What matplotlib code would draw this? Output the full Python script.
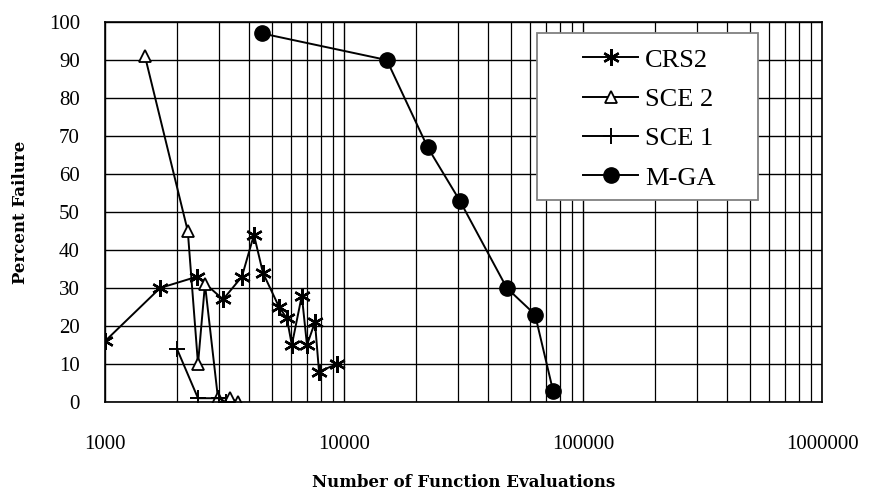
import numpy as np
import matplotlib
matplotlib.use("Agg")
import matplotlib.pyplot as plt
from matplotlib.ticker import LogLocator, NullFormatter, FixedLocator
from matplotlib.patches import Rectangle

plt.rcParams['font.family'] = ['Liberation Serif', 'DejaVu Serif']

# data
crs2_x = [1000, 1700, 2430, 3120, 3740, 4200, 4580, 5350, 5770, 6050, 6660, 7000, 7560, 7860, 9350]
crs2_y = [16, 30, 33, 27, 33, 44, 34, 25, 22, 15, 28, 15, 21, 8, 10]

sce2_x = [1470, 2220, 2450, 2620, 2970, 3330, 3600]
sce2_y = [91, 45, 10, 31, 1, 1, 0]

sce1_x = [2000, 2450, 2990, 3200]
sce1_y = [14, 1, 1, 0]

mga_x = [4540, 15100, 22400, 30500, 48000, 63000, 74900]
mga_y = [97, 90, 67, 53, 30, 23, 3]

x_ticks = [1000, 10000, 100000, 1000000]
x_tick_labels = ["1000", "10000", "100000", "1000000"]
y_ticks = [0, 10, 20, 30, 40, 50, 60, 70, 80, 90, 100]

fig = plt.figure(figsize=(8.72, 4.97), dpi=100)
ax = fig.add_axes([0.1204, 0.1911, 0.8223, 0.7646])

ax.plot(crs2_x, crs2_y, color="black", lw=1.4, marker=(6, 2, 0), ms=12, mew=1.7, label="CRS2")
ax.plot(sce2_x, sce2_y, color="black", lw=1.4, marker="^", ms=9, mfc="white", mew=1.3, label="SCE 2")
ax.plot(sce1_x, sce1_y, color="black", lw=1.4, marker="+", ms=11, mew=1.4, label="SCE 1")
ax.plot(mga_x, mga_y, color="black", lw=1.4, marker="o", ms=11, label="M-GA")

ax.set_xscale("log")
ax.set_xlim(1000, 1000000)
ax.set_ylim(0, 100)
ax.xaxis.set_major_locator(FixedLocator(x_ticks))
ax.set_xticklabels(x_tick_labels)
ax.xaxis.set_minor_locator(LogLocator(base=10, subs=np.arange(2, 10)))
ax.xaxis.set_minor_formatter(NullFormatter())
ax.set_yticks(y_ticks)

ax.grid(True, which="major", color="black", lw=1.0)
ax.grid(True, which="minor", axis="x", color="black", lw=0.9)
ax.tick_params(which="both", length=0)
ax.tick_params(axis="x", pad=24, labelsize=15)
ax.tick_params(axis="y", pad=18, labelsize=15)
for s in ax.spines.values():
    s.set_color("black")
    s.set_linewidth(1.2)

ax.set_xlabel("Number of Function Evaluations", fontsize=12, fontweight="bold",
              family="DejaVu Serif", labelpad=14)
ax.set_ylabel("Percent Failure", fontsize=12, fontweight="bold",
              family="DejaVu Serif", labelpad=14)

# legend box drawn separately to get the wide side margins
ax.add_patch(Rectangle((0.6025, 0.5316), 0.308, 0.4395, transform=ax.transAxes,
                       facecolor="white", edgecolor="gray", lw=1.3, zorder=5))
leg = ax.legend(loc="center left", bbox_to_anchor=(0.6667, 0.745), fontsize=19,
                frameon=False, borderpad=0, labelspacing=0.6, handlelength=2.1,
                handletextpad=0.25, borderaxespad=0)
leg.set_zorder(6)

fig.savefig("out.png", dpi=100)
